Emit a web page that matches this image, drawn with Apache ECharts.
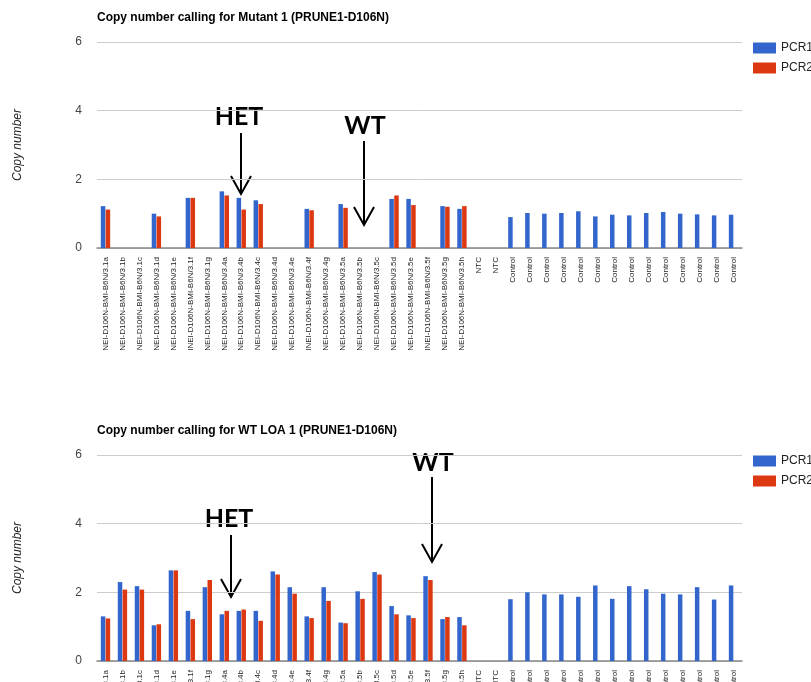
<!DOCTYPE html>
<html>
<head>
<meta charset="utf-8">
<script src="https://cdn.jsdelivr.net/npm/echarts@6/dist/echarts.min.js"></script>
<style>
html,body{margin:0;padding:0;background:#fff;}
#chart{width:811px;height:682px;}
</style>
</head>
<body>
<div id="chart"></div>
<script>
// ---- data ----
const categories = [
  "NEI-D106N-BMI-B6N/3.1a","NEI-D106N-BMI-B6N/3.1b","NEI-D106N-BMI-B6N/3.1c","NEI-D106N-BMI-B6N/3.1d",
  "NEI-D106N-BMI-B6N/3.1e","INEI-D106N-BMI-B6N/3.1f","NEI-D106N-BMI-B6N/3.1g","NEI-D106N-BMI-B6N/3.4a",
  "NEI-D106N-BMI-B6N/3.4b","NEI-D106N-BMI-B6N/3.4c","NEI-D106N-BMI-B6N/3.4d","NEI-D106N-BMI-B6N/3.4e",
  "INEI-D106N-BMI-B6N/3.4f","NEI-D106N-BMI-B6N/3.4g","NEI-D106N-BMI-B6N/3.5a","NEI-D106N-BMI-B6N/3.5b",
  "NEI-D106N-BMI-B6N/3.5c","NEI-D106N-BMI-B6N/3.5d","NEI-D106N-BMI-B6N/3.5e","INEI-D106N-BMI-B6N/3.5f",
  "NEI-D106N-BMI-B6N/3.5g","NEI-D106N-BMI-B6N/3.5h","NTC","NTC",
  "Control","Control","Control","Control","Control","Control","Control",
  "Control","Control","Control","Control","Control","Control","Control"
];
const seriesNames = ["PCR1", "PCR2"];
const yTicks = [0, 2, 4, 6];
const titles = ["Copy number calling for Mutant 1 (PRUNE1-D106N)", "Copy number calling for WT LOA 1 (PRUNE1-D106N)"];

const mutantPCR1 = [1.22,null,null,1.00,null,1.46,null,1.65,1.46,1.39,null,null,1.14,null,1.28,null,null,1.43,1.43,null,1.22,1.14,null,null,
  0.90,1.02,1.00,1.02,1.07,0.92,0.97,0.95,1.02,1.05,1.00,0.98,0.95,0.97];
const mutantPCR2 = [1.12,null,null,0.92,null,1.46,null,1.53,1.12,1.28,null,null,1.10,null,1.17,null,null,1.53,1.25,null,1.20,1.22,null,null,
  null,null,null,null,null,null,null,null,null,null,null,null,null,null];
const wtPCR1 = [1.30,2.30,2.18,1.04,2.64,1.46,2.15,1.36,1.46,1.46,2.61,2.15,1.30,2.15,1.12,2.03,2.59,1.60,1.33,2.47,1.22,1.28,null,null,
  1.80,2.00,1.94,1.94,1.87,2.20,1.81,2.18,2.09,1.96,1.94,2.15,1.79,2.20];
const wtPCR2 = [1.24,2.08,2.08,1.07,2.64,1.22,2.36,1.46,1.50,1.17,2.52,1.96,1.25,1.75,1.10,1.81,2.52,1.36,1.25,2.36,1.28,1.04,null,null,
  null,null,null,null,null,null,null,null,null,null,null,null,null,null];

const annotations = [
  {text: "HET", x: 239, y: 117, x1: 241, y1: 133, y2: 194},
  {text: "WT",  x: 365, y: 126, x1: 364, y1: 141, y2: 225},
  {text: "HET", x: 229, y: 519, x1: 231, y1: 535, y2: 597},
  {text: "WT",  x: 433, y: 463, x1: 432, y1: 477, y2: 562}
];

// ---- chart ----
const colors = ["#3366cc", "#dc3912"];
const gridTops = [42, 455];
const FONT = "Arial, 'Liberation Sans', sans-serif";

const chart = echarts.init(document.getElementById('chart'), null, {renderer: 'canvas'});

const grids = gridTops.map(t => ({left: 97, top: t, width: 645, height: 206, containLabel: false, outerBoundsMode: 'none'}));
const xAxes = gridTops.map((t, i) => ({
  type: 'category', gridIndex: i, data: categories,
  axisLine: {show: true, lineStyle: {color: '#888', width: 1.5}},
  axisTick: {show: false},
  axisLabel: {interval: 0, rotate: 90, fontSize: 8, color: '#222', margin: 9, fontFamily: FONT, hideOverlap: false}
}));
const yAxes = gridTops.map((t, i) => ({
  type: 'value', gridIndex: i, min: yTicks[0], max: yTicks[yTicks.length - 1], interval: 2,
  name: 'Copy number', nameLocation: 'middle', nameRotate: 90, nameGap: 73,
  nameTextStyle: {fontStyle: 'italic', fontSize: 12, color: '#222', fontFamily: FONT},
  axisLine: {show: false}, axisTick: {show: false},
  axisLabel: {fontSize: 12, color: '#444', margin: 15, fontFamily: FONT},
  splitLine: {lineStyle: {color: '#ccc', width: 1}}
}));
const dataSets = [[mutantPCR1, mutantPCR2], [wtPCR1, wtPCR2]];
const series = [];
dataSets.forEach((pair, gi) => {
  pair.forEach((d, si) => {
    series.push({
      type: 'bar', name: seriesNames[si], xAxisIndex: gi, yAxisIndex: gi,
      data: d.map(v => v === null ? '-' : v),
      barWidth: 4.5, barGap: '8%',
      itemStyle: {color: colors[si]},
      emphasis: {disabled: true}
    });
  });
});
const legends = gridTops.map(t => ({
  left: 748, top: t - 5, orient: 'vertical', itemWidth: 23, itemHeight: 11, itemGap: 8,
  icon: 'rect', data: seriesNames,
  textStyle: {fontSize: 12, color: '#222', fontFamily: FONT}
}));
const titleOpts = titles.map((tx, i) => ({
  text: tx, left: 92, top: [7, 420][i],
  textStyle: {fontSize: 12, fontWeight: 'bold', color: '#000', fontFamily: FONT}
}));

const graphics = [];
annotations.forEach(a => {
  graphics.push({
    type: 'text', x: a.x, y: a.y,
    style: {text: a.text, font: "bold 25px Lato, 'Open Sans', sans-serif", fill: '#000', textAlign: 'center', textVerticalAlign: 'middle'}
  });
  graphics.push({
    type: 'polyline', shape: {points: [[a.x1, a.y1], [a.x1, a.y2]]},
    style: {stroke: '#000', lineWidth: 2, fill: null}
  });
  graphics.push({
    type: 'polyline', shape: {points: [[a.x1 - 10, a.y2 - 18], [a.x1, a.y2], [a.x1 + 10, a.y2 - 18]]},
    style: {stroke: '#000', lineWidth: 2, fill: null}
  });
});

chart.setOption({
  animation: false,
  backgroundColor: '#fff',
  title: titleOpts,
  legend: legends,
  grid: grids,
  xAxis: xAxes,
  yAxis: yAxes,
  series: series,
  graphic: graphics
});
</script>
</body>
</html>
